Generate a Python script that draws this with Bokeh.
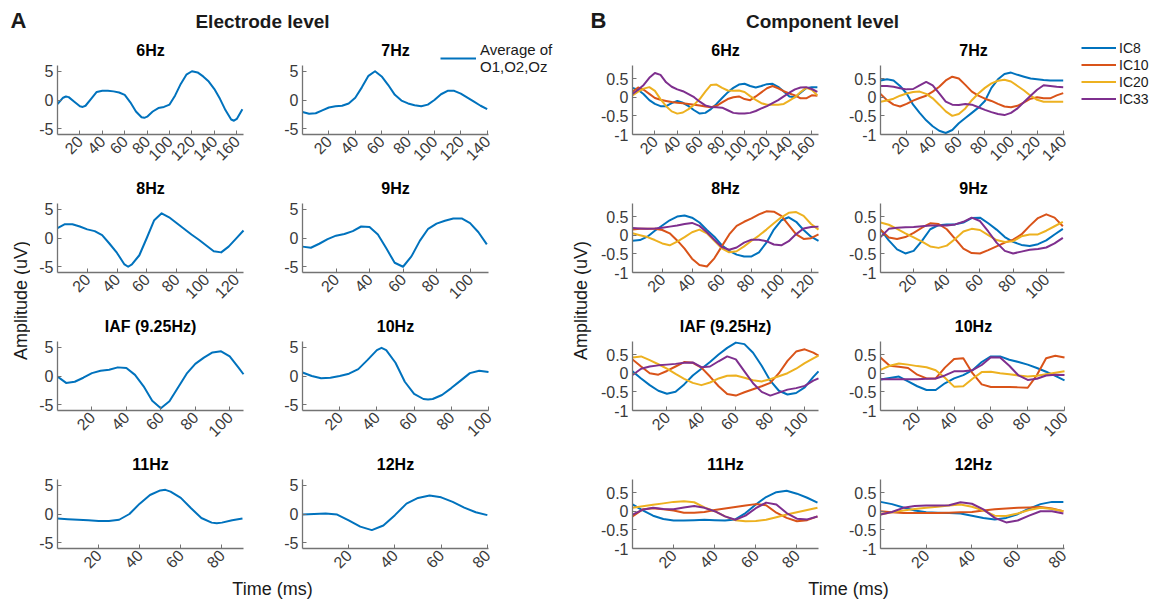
import math

from bokeh.core.properties import value
from bokeh.embed import file_html
from bokeh.layouts import column, row
from bokeh.models import FixedTicker, Label, Legend, LegendItem, Range1d
from bokeh.plotting import figure
from bokeh.resources import INLINE

# ---------------------------------------------------------------- data
# Time samples (ms) of one stimulation cycle for each condition
T_6HZ = [0, 5, 10, 15, 20, 25, 30, 35, 40, 45, 50, 55, 60, 65, 70, 75, 80, 85, 90, 95,
         100, 105, 110, 115, 120, 125, 130, 135, 140, 145, 150, 155, 160, 165]
T_7HZ = [0, 5, 10, 15, 20, 25, 30, 35, 40, 45, 50, 55, 60, 65, 70, 75, 80, 85, 90, 95,
         100, 105, 110, 115, 120, 125, 130, 135, 140]
T_8HZ = [0, 5, 10, 15, 20, 25, 30, 35, 40, 45, 50, 55, 60, 65, 70, 75, 80, 85, 90, 95,
         100, 105, 110, 115, 120, 125]
T_9HZ = [0, 5, 10, 15, 20, 25, 30, 35, 40, 45, 50, 55, 60, 65, 70, 75, 80, 85, 90, 95,
         100, 105, 110]
T_IAF = [0, 5, 10, 15, 20, 25, 30, 35, 40, 45, 50, 55, 60, 65, 70, 75, 80, 85, 90, 95,
         100, 105, 108]
T_10HZ = [0, 5, 10, 15, 20, 25, 30, 35, 40, 45, 50, 55, 60, 65, 70, 75, 80, 85, 90, 95, 100]
T_11HZ = [0, 5, 10, 15, 20, 25, 30, 35, 40, 45, 50, 55, 60, 65, 70, 75, 80, 85, 90]
T_12HZ = [0, 5, 10, 15, 20, 25, 30, 35, 40, 45, 50, 55, 60, 65, 70, 75, 80]

# electrode traces carry a few extra samples at their extrema
EEG_T_6HZ = [0, 5, 7.5, 10, 15, 20, 22.5, 25, 30, 35, 40, 45, 50, 55, 60, 65, 70, 75, 77.5,
             80, 85, 90, 95, 100, 105, 110, 115, 120, 125, 130, 135, 140, 145, 150, 155,
             157.5, 160, 165]
EEG_T_8HZ = [0, 5, 10, 15, 20, 25, 30, 35, 40, 45, 47.5, 50, 55, 60, 65, 70, 75, 80, 85, 90,
             95, 100, 105, 110, 115, 120, 125]
EEG_T_10HZ = [0, 5, 10, 15, 20, 25, 30, 35, 40, 42.5, 45, 50, 55, 60, 65, 67.5, 70, 75, 80,
              85, 90, 95, 100]
EEG_T_11HZ = [0, 5, 10, 15, 20, 25, 30, 35, 40, 45, 50, 52.5, 55, 60, 65, 70, 75, 77.5, 80,
              85, 90]

# x-axis tick labels per condition
TICKS_6HZ = [20, 40, 60, 80, 100, 120, 140, 160]
TICKS_7HZ = [20, 40, 60, 80, 100, 120, 140]
TICKS_8HZ = [20, 40, 60, 80, 100, 120]
TICKS_9HZ = [20, 40, 60, 80, 100]
TICKS_IAF = [20, 40, 60, 80, 100]
TICKS_10HZ = [20, 40, 60, 80, 100]
TICKS_11HZ = [20, 40, 60, 80]
TICKS_12HZ = [20, 40, 60, 80]

# Electrode level: average of O1, O2, Oz (uV)
EEG_6HZ = [-0.7, 0.4, 0.6, 0.5, -0.3, -1.1, -1.2, -1.0, 0.2, 1.4, 1.6, 1.6, 1.5, 1.3, 0.9,
           -0.4, -2.0, -3.0, -3.1, -2.9, -2.0, -1.4, -1.2, -0.8, 0.8, 2.8, 4.4, 5.0, 4.8, 4.1,
           3.2, 1.9, 0.2, -1.8, -3.4, -3.6, -3.3, -1.6]
EEG_7HZ = [-2.1, -2.4, -2.3, -1.8, -1.3, -1.1, -1.0, -0.6, 0.4, 2.2, 4.2, 5.0, 4.1, 2.6, 0.9,
           -0.1, -0.6, -0.9, -1.1, -0.8, 0.0, 1.0, 1.6, 1.6, 1.1, 0.4, -0.3, -1.0, -1.6]
EEG_8HZ = [1.7, 2.4, 2.4, 2.0, 1.5, 1.2, 0.5, -1.0, -2.6, -4.6, -5.0, -4.6, -3.0, 0.0, 3.1,
           4.3, 3.6, 2.6, 1.6, 0.6, -0.3, -1.3, -2.3, -2.5, -1.5, -0.1, 1.3]
EEG_9HZ = [-1.5, -1.7, -1.0, -0.2, 0.4, 0.7, 1.2, 2.0, 1.9, 0.6, -1.8, -4.3, -5.0, -3.2, -0.5,
           1.6, 2.5, 3.0, 3.4, 3.4, 2.6, 1.0, -1.1]
EEG_IAF = [-0.1, -1.2, -1.0, -0.3, 0.5, 0.9, 1.1, 1.5, 1.4, 0.2, -1.8, -4.3, -5.6, -4.4, -2.0,
           0.4, 2.1, 3.2, 4.1, 4.3, 3.4, 1.5, 0.3]
EEG_10HZ = [0.6, 0.0, -0.4, -0.3, 0.0, 0.4, 1.2, 2.8, 4.5, 4.9, 4.5, 2.3, -1.0, -3.1, -4.0,
            -4.1, -4.0, -3.3, -2.1, -0.8, 0.5, 0.9, 0.7]
EEG_11HZ = [-0.8, -0.9, -1.0, -1.1, -1.2, -1.2, -1.0, 0.0, 1.8, 3.3, 4.1, 4.2, 3.9, 2.8, 1.0,
            -0.7, -1.5, -1.6, -1.5, -1.1, -0.8]
EEG_12HZ = [-0.1, 0.0, 0.1, -0.1, -1.1, -2.2, -2.8, -2.0, -0.2, 1.8, 2.8, 3.2, 2.9, 2.1, 1.1,
            0.3, -0.2]

# Component level: IC8, IC10, IC20, IC33 (uV)
IC8_6HZ = [0.25, 0.2, 0.08, -0.08, -0.18, -0.24, -0.24, -0.16, -0.1, -0.15, -0.24, -0.35,
           -0.44, -0.42, -0.32, -0.18, -0.02, 0.13, 0.25, 0.34, 0.36, 0.3, 0.26, 0.3, 0.35,
           0.36, 0.28, 0.15, 0.02, 0.0, 0.12, 0.24, 0.27, 0.27]
IC10_6HZ = [0.15, 0.26, 0.2, 0.09, -0.02, -0.07, -0.1, -0.13, -0.15, -0.16, -0.18, -0.2,
            -0.22, -0.25, -0.27, -0.23, -0.14, -0.05, 0.0, 0.02, -0.05, -0.08, 0.02, 0.13,
            0.24, 0.3, 0.24, 0.16, 0.1, 0.05, -0.03, -0.03, 0.05, 0.04]
IC20_6HZ = [0.05, 0.15, 0.23, 0.27, 0.17, -0.05, -0.24, -0.38, -0.44, -0.41, -0.32, -0.2,
            -0.05, 0.15, 0.33, 0.34, 0.25, 0.18, 0.17, 0.18, 0.14, 0.03, -0.07, -0.16, -0.2,
            -0.2, -0.2, -0.18, -0.09, 0.0, 0.14, 0.25, 0.2, 0.05]
IC33_6HZ = [0.09, 0.2, 0.33, 0.52, 0.65, 0.6, 0.4, 0.28, 0.21, 0.16, 0.08, 0.0, -0.12, -0.22,
            -0.26, -0.27, -0.28, -0.35, -0.42, -0.44, -0.44, -0.42, -0.37, -0.3, -0.24,
            -0.16, -0.08, 0.02, 0.12, 0.21, 0.26, 0.27, 0.22, 0.14]

IC8_7HZ = [0.45, 0.48, 0.45, 0.3, 0.1, -0.2, -0.42, -0.62, -0.78, -0.9, -0.96, -0.88, -0.7,
           -0.56, -0.42, -0.28, -0.1, 0.25, 0.48, 0.62, 0.66, 0.6, 0.55, 0.5, 0.48, 0.46,
           0.45, 0.45, 0.45]
IC10_7HZ = [0.09, -0.08, -0.2, -0.25, -0.18, -0.09, -0.02, 0.04, 0.15, 0.28, 0.45, 0.55, 0.5,
            0.33, 0.15, 0.04, -0.04, -0.1, -0.18, -0.25, -0.27, -0.23, -0.14, -0.04, 0.0,
            -0.03, -0.03, 0.05, 0.11]
IC20_7HZ = [-0.12, -0.09, -0.04, 0.04, 0.1, 0.14, 0.15, 0.09, -0.03, -0.2, -0.38, -0.5, -0.45,
            -0.3, -0.08, 0.1, 0.25, 0.37, 0.44, 0.47, 0.42, 0.3, 0.18, 0.04, -0.07, -0.12,
            -0.12, -0.12, -0.12]
IC33_7HZ = [0.3, 0.3, 0.28, 0.24, 0.21, 0.22, 0.32, 0.41, 0.32, 0.1, -0.12, -0.2, -0.21, -0.18,
            -0.2, -0.27, -0.34, -0.4, -0.45, -0.48, -0.42, -0.3, -0.13, 0.04, 0.2, 0.32, 0.3,
            0.28, 0.27]

IC8_8HZ = [-0.15, -0.13, -0.04, 0.12, 0.26, 0.4, 0.5, 0.53, 0.47, 0.34, 0.14, -0.04, -0.27,
           -0.42, -0.52, -0.57, -0.57, -0.46, -0.2, 0.15, 0.4, 0.48, 0.36, 0.14, -0.04, -0.15]
IC10_8HZ = [0.15, 0.17, 0.17, 0.17, 0.14, 0.05, -0.14, -0.36, -0.63, -0.8, -0.84, -0.62, -0.3,
            0.02, 0.25, 0.36, 0.45, 0.56, 0.64, 0.63, 0.52, 0.27, 0.02, -0.1, -0.08, 0.02]
IC20_8HZ = [0.05, 0.0, -0.05, -0.13, -0.22, -0.27, -0.17, -0.05, 0.08, 0.15, 0.05, -0.15,
            -0.35, -0.46, -0.43, -0.3, -0.15, -0.01, 0.15, 0.32, 0.48, 0.6, 0.62, 0.52, 0.3,
            0.15]
IC33_8HZ = [0.19, 0.18, 0.17, 0.18, 0.2, 0.23, 0.26, 0.3, 0.33, 0.25, 0.08, -0.12, -0.32,
            -0.39, -0.33, -0.2, -0.12, -0.12, -0.16, -0.25, -0.27, -0.16, 0.03, 0.18, 0.22,
            0.23]

IC8_9HZ = [0.15, -0.14, -0.38, -0.49, -0.42, -0.15, 0.16, 0.27, 0.29, 0.29, 0.34, 0.46, 0.47,
           0.32, 0.15, -0.05, -0.18, -0.26, -0.29, -0.24, -0.14, 0.02, 0.17]
IC10_9HZ = [0.15, -0.06, -0.1, -0.05, 0.06, 0.2, 0.32, 0.3, 0.16, -0.1, -0.36, -0.48, -0.49,
            -0.4, -0.3, -0.2, -0.12, 0.02, 0.25, 0.46, 0.56, 0.47, 0.24]
IC20_9HZ = [0.34, 0.28, 0.17, 0.05, -0.06, -0.17, -0.3, -0.34, -0.28, -0.1, 0.1, 0.17, 0.14,
            0.0, -0.13, -0.18, -0.16, -0.03, 0.02, 0.02, 0.12, 0.24, 0.36]
IC33_9HZ = [-0.05, 0.17, 0.2, 0.21, 0.22, 0.24, 0.26, 0.26, 0.26, 0.29, 0.36, 0.47, 0.38, 0.1,
            -0.2, -0.42, -0.49, -0.44, -0.39, -0.37, -0.33, -0.22, -0.07]

IC8_IAF = [0.05, -0.14, -0.32, -0.47, -0.55, -0.5, -0.3, -0.06, 0.12, 0.3, 0.5, 0.68, 0.82,
           0.78, 0.55, 0.2, -0.2, -0.47, -0.57, -0.53, -0.38, -0.1, 0.05]
IC10_IAF = [0.37, 0.18, 0.0, -0.04, 0.06, 0.18, 0.3, 0.28, 0.15, -0.09, -0.35, -0.56, -0.6,
            -0.51, -0.43, -0.35, -0.26, 0.0, 0.33, 0.58, 0.64, 0.55, 0.47]
IC20_IAF = [0.42, 0.45, 0.35, 0.24, 0.12, -0.02, -0.15, -0.26, -0.32, -0.25, -0.14, -0.07,
            -0.06, -0.12, -0.19, -0.22, -0.16, -0.08, 0.0, 0.12, 0.27, 0.4, 0.47]
IC33_IAF = [-0.05, 0.12, 0.18, 0.21, 0.23, 0.25, 0.28, 0.29, 0.16, 0.18, 0.32, 0.45, 0.37,
            0.05, -0.27, -0.5, -0.6, -0.52, -0.44, -0.4, -0.34, -0.2, -0.14]

IC8_10HZ = [-0.17, -0.13, -0.09, -0.22, -0.35, -0.45, -0.45, -0.27, -0.14, -0.05, 0.08, 0.3,
            0.45, 0.45, 0.36, 0.3, 0.23, 0.14, 0.04, -0.07, -0.19]
IC10_10HZ = [0.42, 0.2, 0.17, 0.14, -0.04, -0.14, -0.14, 0.15, 0.38, 0.4, 0.0, -0.3, -0.37,
             -0.37, -0.37, -0.38, -0.39, -0.05, 0.4, 0.47, 0.42]
IC20_10HZ = [0.09, 0.2, 0.26, 0.23, 0.19, 0.16, 0.08, -0.12, -0.36, -0.35, -0.15, 0.03, 0.04,
             0.0, -0.03, -0.06, -0.09, -0.07, -0.03, 0.01, 0.05]
IC33_10HZ = [-0.16, -0.16, -0.16, -0.16, -0.16, -0.15, -0.14, -0.06, 0.05, 0.05, 0.08, 0.22,
             0.43, 0.42, 0.2, -0.06, -0.18, -0.15, -0.06, -0.04, -0.05]

IC8_11HZ = [0.18, 0.02, -0.12, -0.21, -0.25, -0.25, -0.24, -0.23, -0.24, -0.25, -0.22, -0.05,
            0.18, 0.38, 0.51, 0.55, 0.47, 0.36, 0.23]
IC10_11HZ = [-0.14, 0.05, 0.08, 0.05, 0.02, -0.04, -0.04, -0.02, 0.03, 0.07, 0.11, 0.15, 0.19,
             0.16, -0.04, -0.18, -0.27, -0.24, -0.14]
IC20_11HZ = [0.09, 0.13, 0.17, 0.21, 0.25, 0.27, 0.24, 0.1, 0.0, -0.14, -0.24, -0.27, -0.26,
             -0.23, -0.16, -0.09, -0.03, 0.03, 0.09]
IC33_11HZ = [-0.09, 0.04, 0.09, 0.06, 0.05, 0.1, 0.14, 0.09, 0.0, -0.14, -0.23, -0.12, 0.08,
             0.23, 0.18, -0.05, -0.2, -0.22, -0.14]

IC8_12HZ = [0.25, 0.19, 0.1, 0.02, -0.03, -0.04, -0.05, -0.06, -0.12, -0.18, -0.22, -0.18,
            -0.08, 0.07, 0.19, 0.25, 0.25]
IC10_12HZ = [0.0, -0.03, -0.05, -0.05, -0.05, -0.05, -0.04, -0.03, -0.02, 0.02, 0.05, 0.07,
             0.09, 0.1, 0.11, 0.07, 0.0]
IC20_12HZ = [-0.09, -0.03, 0.02, 0.06, 0.09, 0.12, 0.15, 0.18, 0.12, 0.02, -0.12, -0.13,
             -0.06, 0.03, 0.09, 0.06, 0.0]
IC33_12HZ = [-0.09, -0.02, 0.09, 0.14, 0.15, 0.15, 0.16, 0.24, 0.2, 0.05, -0.18, -0.3, -0.25,
             -0.12, 0.0, 0.0, -0.06]

# title, x-axis end, ticks, (electrode time, trace), (component time, traces)
CONDITIONS = [
    ("6Hz", 166, TICKS_6HZ, (EEG_T_6HZ, EEG_6HZ),
     (T_6HZ, [IC8_6HZ, IC10_6HZ, IC20_6HZ, IC33_6HZ])),
    ("7Hz", 141, TICKS_7HZ, (T_7HZ, EEG_7HZ),
     (T_7HZ, [IC8_7HZ, IC10_7HZ, IC20_7HZ, IC33_7HZ])),
    ("8Hz", 125, TICKS_8HZ, (EEG_T_8HZ, EEG_8HZ),
     (T_8HZ, [IC8_8HZ, IC10_8HZ, IC20_8HZ, IC33_8HZ])),
    ("9Hz", 111, TICKS_9HZ, (T_9HZ, EEG_9HZ),
     (T_9HZ, [IC8_9HZ, IC10_9HZ, IC20_9HZ, IC33_9HZ])),
    ("IAF (9.25Hz)", 108, TICKS_IAF, (T_IAF, EEG_IAF),
     (T_IAF, [IC8_IAF, IC10_IAF, IC20_IAF, IC33_IAF])),
    ("10Hz", 100, TICKS_10HZ, (EEG_T_10HZ, EEG_10HZ),
     (T_10HZ, [IC8_10HZ, IC10_10HZ, IC20_10HZ, IC33_10HZ])),
    ("11Hz", 90.5, TICKS_11HZ, (EEG_T_11HZ, EEG_11HZ),
     (T_11HZ, [IC8_11HZ, IC10_11HZ, IC20_11HZ, IC33_11HZ])),
    ("12Hz", 80.5, TICKS_12HZ, (T_12HZ, EEG_12HZ),
     (T_12HZ, [IC8_12HZ, IC10_12HZ, IC20_12HZ, IC33_12HZ])),
]

IC_NAMES = ["IC8", "IC10", "IC20", "IC33"]
EEG_Y_LIM = (-6, 6)
EEG_Y_TICKS = [-5, 0, 5]
EEG_Y_LABELS = ["-5", "0", "5"]
IC_Y_LIM = (-1, 0.85)
IC_Y_TICKS = [-1, -0.5, 0, 0.5]
IC_Y_LABELS = ["-1", "-0.5", "0", "0.5"]

for _, _, _, (et, eeg), (it, ics) in CONDITIONS:
    assert len(eeg) == len(et)
    for s in ics:
        assert len(s) == len(it)

# ---------------------------------------------------------------- styling
FONT = "Liberation Sans"
AXIS_GRAY = "#737373"
TEXT_DARK = "#1a1a1a"
TICK_TEXT = "#3a3a3a"
EEG_COLOR = "#0072BD"
IC_COLORS = ["#0072BD", "#D95319", "#EDB120", "#7E2F8E"]

AX_W, AX_H = 186, 69      # size of the drawn axes box (pixels)
HEAD_ROOM = 30            # free room above each axes box, holds the subplot title
ROW_BOTTOM = 39           # rows 1-3: room for rotated tick labels
LAST_BOTTOM = 30          # bottom row
HEADER_H = 35
FOOTER_H = 28
BODY_H = 3 * (HEAD_ROOM + AX_H + ROW_BOTTOM) + (HEAD_ROOM + AX_H + LAST_BOTTOM)

# (left border, total width) of the two columns in each half
A_COLS = [(27, 243), (29, 292)]
B_COLS = [(40, 253), (32, 313)]


def style_axes(p, x_end, y_lim, x_ticks, y_ticks, y_labels):
    p.xaxis.ticker = FixedTicker(ticks=x_ticks)
    p.yaxis.ticker = FixedTicker(ticks=y_ticks)
    p.xaxis.bounds = (0, x_end)
    p.yaxis.bounds = y_lim
    p.yaxis.major_label_overrides = dict(zip(y_ticks, y_labels))
    p.xaxis.major_label_orientation = math.pi / 4
    for ax in (p.xaxis[0], p.yaxis[0]):
        ax.axis_line_color = AXIS_GRAY
        ax.axis_line_width = 1.3
        ax.major_tick_line_color = AXIS_GRAY
        ax.major_tick_line_width = 1
        ax.major_tick_in = 4
        ax.major_tick_out = 0
        ax.minor_tick_line_color = None
        ax.major_label_text_font = FONT
        ax.major_label_text_font_size = "16px"
        ax.major_label_text_color = TICK_TEXT
    p.xaxis.major_label_standoff = 4
    p.yaxis.major_label_standoff = 4


def make_panel(title, series, colors, x_end, x_ticks, y_lim, y_ticks, y_labels,
               left, width, bottom):
    # the plotting frame is larger than the axes box: the axes (limited by bounds)
    # occupy its lower-left AX_W x AX_H pixels, the rest holds title and legend
    fw = width - left
    fh = HEAD_ROOM + AX_H
    y0, y1 = y_lim
    p = figure(width=width, height=fh + bottom,
               x_range=Range1d(0, x_end * fw / AX_W),
               y_range=Range1d(y0, y0 + (y1 - y0) * fh / AX_H),
               output_backend="svg", toolbar_location=None,
               min_border_left=left, min_border_right=0,
               min_border_top=0, min_border_bottom=bottom)
    p.outline_line_color = None
    p.xgrid.visible = False
    p.ygrid.visible = False
    p.background_fill_color = "white"
    p.border_fill_color = "white"
    rends = [p.line(t, s, line_color=c, line_width=2, line_join="round")
             for (t, s), c in zip(series, colors)]
    style_axes(p, x_end, y_lim, x_ticks, y_ticks, y_labels)
    p.add_layout(Label(x=AX_W / 2, y=AX_H + 15, x_units="screen", y_units="screen",
                       text=title, text_align="center", text_baseline="middle",
                       text_font=FONT, text_font_style="bold", text_font_size="16px",
                       text_color="black"))
    return p, rends


def text_fig(width, height, items):
    p = figure(width=width, height=height, x_range=Range1d(0, width),
               y_range=Range1d(0, height), output_backend="svg", toolbar_location=None,
               x_axis_type=None, y_axis_type=None, min_border=0)
    p.outline_line_color = None
    p.background_fill_color = "white"
    p.border_fill_color = "white"
    for txt, x, y, size, bold, angle in items:
        p.text(x=[x], y=[y], text=[txt], angle=angle, text_align="center",
               text_baseline="middle", text_font=value(FONT), text_font_size=size,
               text_font_style="bold" if bold else "normal", text_color=TEXT_DARK)
    return p


def build_half(electrode):
    cols = A_COLS if electrode else B_COLS
    rows = []
    legend_fig, legend_rends = None, None
    for r in range(4):
        figs = []
        for c in range(2):
            title, x_end, x_ticks, (et, eeg), (it, ics) = CONDITIONS[2 * r + c]
            left, width = cols[c]
            bottom = LAST_BOTTOM if r == 3 else ROW_BOTTOM
            if electrode:
                p, rends = make_panel(title, [(et, eeg)], [EEG_COLOR], x_end, x_ticks,
                                      EEG_Y_LIM, EEG_Y_TICKS, EEG_Y_LABELS, left, width, bottom)
            else:
                p, rends = make_panel(title, [(it, s) for s in ics], IC_COLORS, x_end, x_ticks,
                                      IC_Y_LIM, IC_Y_TICKS, IC_Y_LABELS, left, width, bottom)
            if r == 0 and c == 1:
                legend_fig, legend_rends = p, rends
            figs.append(p)
        rows.append(row(*figs))

    if electrode:
        leg = Legend(items=[LegendItem(label="Average of\nO1,O2,Oz", renderers=legend_rends)],
                     location=(138, 59))
        leg.glyph_width = 36
        leg.label_standoff = 4
        leg.label_text_font_size = "15px"
    else:
        leg = Legend(items=[LegendItem(label=n, renderers=[rd])
                            for n, rd in zip(IC_NAMES, legend_rends)],
                     location=(201, 27))
        leg.glyph_width = 35
        leg.glyph_height = 17
        leg.label_height = 17
        leg.label_standoff = 3
        leg.label_text_font_size = "14px"
    leg.spacing = 0
    leg.padding = 0
    leg.margin = 0
    leg.border_line_color = None
    leg.background_fill_alpha = 0
    leg.label_text_font = FONT
    leg.label_text_color = TEXT_DARK
    legend_fig.add_layout(leg)

    if electrode:
        width = 565
        ylab = text_fig(30, BODY_H, [("Amplitude (uV)", 20, BODY_H - 265, "18px", False,
                                      math.pi / 2)])
        header = text_fig(width, HEADER_H, [("A", 18, 15, "22px", True, 0),
                                            ("Electrode level", 262, 14, "19px", True, 0)])
        footer = text_fig(width, FOOTER_H, [("Time (ms)", 272, 18, "18px", False, 0)])
    else:
        width = 593
        ylab = text_fig(27, BODY_H, [("Amplitude (uV)", 15, BODY_H - 265, "18px", False,
                                      math.pi / 2)])
        header = text_fig(width, HEADER_H, [("B", 33, 15, "22px", True, 0),
                                            ("Component level", 257, 14, "19px", True, 0)])
        footer = text_fig(width, FOOTER_H, [("Time (ms)", 283, 18, "18px", False, 0)])

    return column(header, row(ylab, column(*rows)), footer)


layout = row(build_half(True), build_half(False))

with open("out.html", "w") as f:
    f.write(file_html(layout, INLINE, title="Steady-state responses"))
